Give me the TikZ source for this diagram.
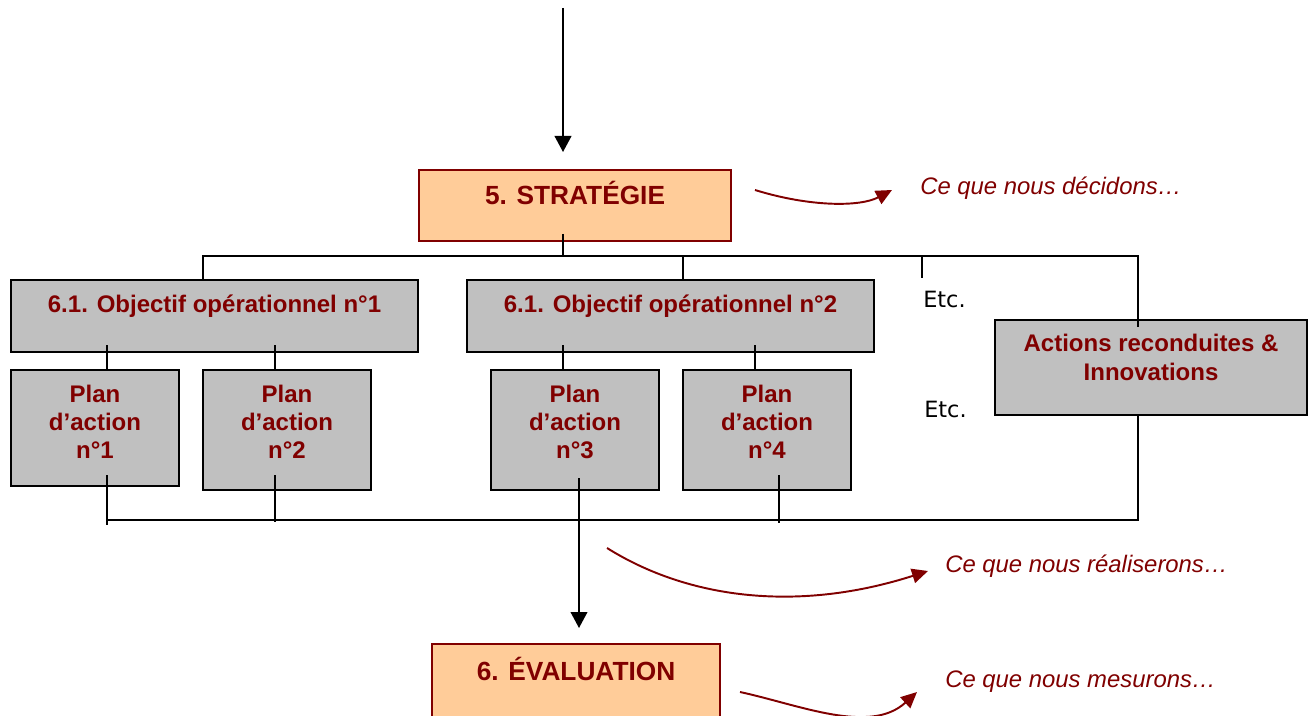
\documentclass[tikz,border=0pt]{standalone}
\usepackage{fontspec}
\setmainfont{Liberation Sans}
\newfontfamily\etcfont{DejaVu Sans}
\usetikzlibrary{arrows.meta,calc}
\definecolor{dkred}{HTML}{800000}
\definecolor{peach}{HTML}{FFCC99}
\definecolor{boxgray}{HTML}{C0C0C0}
\begin{document}
\begin{tikzpicture}[x=0.75pt,y=-0.75pt,
  sz/.style 2 args={minimum width=#1*0.75pt, minimum height=#2*0.75pt, inner sep=0pt},
  peachbox/.style={draw=dkred, fill=peach, line width=1.6pt},
  graybox/.style={draw=black, fill=boxgray, line width=1.7pt},
  ttl/.style={text=dkred, font=\bfseries\fontsize{18}{21}\selectfont, align=center, anchor=base, inner sep=0pt},
  big/.style={font=\bfseries\fontsize{19.7}{23}\selectfont},
  note/.style={text=dkred, font=\itshape\fontsize{17.9}{21}\selectfont, anchor=base west, inner sep=0pt},
  etc/.style={font=\etcfont\fontsize{16.8}{19}\selectfont, anchor=base west, inner sep=0pt},
  wire/.style={draw=black, line width=1.35pt},
  blackhead/.style={-{Triangle[length=12pt,width=12.5pt]}},
  redarr/.style={draw=dkred, line width=1.45pt, -{Triangle[length=12pt,width=11pt]}}
]
\useasboundingbox (0,0) rectangle (1316,716);

% boxes
\node[peachbox, sz={312}{71}] (strat) at (575,205.5) {};
\node[graybox, sz={407}{72}] (obj1) at (214.5,316) {};
\node[graybox, sz={407}{72}] (obj2) at (670.5,316) {};
\node[graybox, sz={312}{95}] (act) at (1151,367.5) {};
\node[graybox, sz={168}{116}] (plan1) at (95,428) {};
\node[graybox, sz={168}{120}] (plan2) at (287,430) {};
\node[graybox, sz={168}{120}] (plan3) at (575,430) {};
\node[graybox, sz={168}{120}] (plan4) at (767,430) {};
\node[peachbox, sz={288}{76}] (eval) at (576,682) {};

% box titles (base anchor = baseline of the last line)
\node[ttl, big] (stratT) at (575,205) {5. STRATÉGIE};
\node[ttl] (obj1T) at (214.5,313) {6.1. Objectif opérationnel n°1};
\node[ttl] (obj2T) at (670.5,313) {6.1. Objectif opérationnel n°2};
\node[ttl, font=\bfseries\fontsize{18}{21.75}\selectfont] (actT) at (1151,380) {Actions reconduites \&\\Innovations};
\node[ttl] (plan1T) at (95,458) {Plan\\d’action\\n°1};
\node[ttl] (plan2T) at (287,458) {Plan\\d’action\\n°2};
\node[ttl] (plan3T) at (575,458) {Plan\\d’action\\n°3};
\node[ttl] (plan4T) at (767,458) {Plan\\d’action\\n°4};
\node[ttl, big] (evalT) at (576,680.5) {6. ÉVALUATION};

% side notes
\node[etc] (etc1) at (923,308) {Etc.};
\node[etc] (etc2) at (924,417) {Etc.};
\node[note] (n1) at (920,195) {Ce que nous décidons…};
\node[note] (n2) at (945,572.7) {Ce que nous réaliserons…};
\node[note] (n3) at (945,687.3) {Ce que nous mesurons…};

% connector end points
\coordinate (topStart) at (563,8);
\coordinate (topTip) at (563,152);
\coordinate (sIn) at (563,234);
\coordinate (b1L) at (203,256);
\coordinate (b1R) at (1138,256);
\coordinate (b1o2) at (683,256);
\coordinate (b1etc) at (922,256);
\coordinate (etcStub) at (922,278);
\coordinate (actIn) at (1138,327);
\coordinate (o1a) at (107,345);
\coordinate (o1b) at (275,345);
\coordinate (o2a) at (563,345);
\coordinate (o2b) at (755,345);
\coordinate (p1out) at (107,475);
\coordinate (p2out) at (275,475);
\coordinate (p3out) at (579,478);
\coordinate (p4out) at (779,475);
\coordinate (b2L) at (107,520);
\coordinate (b2R) at (1138,520);
\coordinate (evTip) at (579,628);

% connectors
\draw[wire, blackhead] (topStart) -- (topTip);
\draw[wire] (sIn) -- (sIn |- b1L);
\draw[wire] (b1L |- obj1.north) -- (b1L) -- (b1R) -- (actIn);
\draw[wire] (b1o2) -- (b1o2 |- obj2.north);
\draw[wire] (b1etc) -- (etcStub);
\draw[wire] (o1a) -- (o1a |- plan1.north);
\draw[wire] (o1b) -- (o1b |- plan2.north);
\draw[wire] (o2a) -- (o2a |- plan3.north);
\draw[wire] (o2b) -- (o2b |- plan4.north);
\draw[wire] (p1out) -- ($(b2L)+(0,5)$);
\draw[wire] (p2out) -- ($(p2out |- b2L)+(0,2)$);
\draw[wire] (p4out) -- ($(p4out |- b2L)+(0,3)$);
\draw[wire] (b2L) -- (b2R) -- (b2R |- act.south);
\draw[wire, blackhead] (p3out) -- (evTip);

% curved arrows towards the notes
\draw[redarr] (755,190) .. controls (810,207) and (860,207) .. (892,190);
\draw[redarr] (607,548) .. controls (690,600) and (800,612) .. (928,571);
\draw[redarr] (740,692) .. controls (800,705) and (870,735) .. (917,692);
\end{tikzpicture}
\end{document}
